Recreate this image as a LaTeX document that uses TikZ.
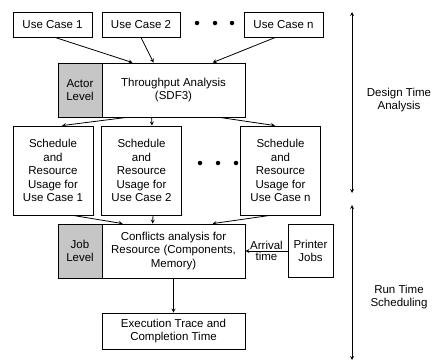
\documentclass[tikz,border=0pt]{standalone}
\usepackage{fontspec}
\setmainfont{Liberation Sans}
\usetikzlibrary{positioning}

\begin{document}
\begin{tikzpicture}[x=1pt, y=-1pt, on grid, >=stealth, line width=0.8pt,
    every node/.style={font=\fontsize{11.5}{13.5}\selectfont},
    box/.style={draw, rectangle, align=center, inner sep=1pt, minimum height=25pt},
    lvl/.style={box, fill=gray!45, minimum width=44pt, minimum height=54pt},
    big/.style={box, minimum width=143pt, minimum height=54pt},
    sched/.style={box, minimum width=80pt, minimum height=89pt},
    dot/.style={circle, fill, inner sep=0pt, minimum size=4.5pt}]
    \useasboundingbox (0,0) rectangle (434,362);

		\node[box, minimum width=79pt] (uc1) at (52.5,24.5) {Use Case 1};
		\node[box, minimum width=78pt] (uc2) [right=88.5pt of uc1] {Use Case 2};
		\node[box, minimum width=79pt] (ucn) [right=142.5pt of uc2] {Use Case n};
    \foreach \i/\x in {1/197, 2/215, 3/232}
      \node[dot] (topdot\i) at (\x,23) {};

		\node[lvl] (actor) at (80,90) {Actor\\Level};
		\node[big] (thr) [right=93.5pt of actor] {Throughput Analysis\\(SDF3)};

		\node[sched] (s1) at (53,170.5) {Schedule\\and\\Resource\\Usage for\\Use Case 1};
		\node[sched] (s2) [right=88.5pt of s1] {Schedule\\and\\Resource\\Usage for\\Use Case 2};
		\node[sched] (sn) [right=139pt of s2] {Schedule\\and\\Resource\\Usage for\\Use Case n};
    \foreach \i/\x in {1/200, 2/218, 3/236}
      \node[dot] (middot\i) at (\x,163) {};

		\node[lvl] (job) [below=161pt of actor] {Job\\Level};
		\node[big] (conf) [below=161pt of thr] {Conflicts analysis for\\Resource (Components,\\Memory)};
		\node[box, minimum width=45pt, minimum height=53pt] (prn) [right=137pt of conf] {Printer\\Jobs};
		\node[big, minimum height=36pt] (exec) [below=80pt of conf] {Execution Trace and\\Completion Time};

    \path[->]
      ([xshift=2.5pt]uc1.south) edge ([xshift=31pt]thr.north west)
      (uc2.south) edge ([xshift=52pt]thr.north west)
      ([xshift=-8pt]ucn.south) edge ([xshift=111pt]thr.north west)
      ([xshift=25pt]thr.south west) edge ([xshift=9pt]s1.north)
      ([xshift=50pt]thr.south west) edge ([xshift=10.5pt]s2.north)
      ([xshift=118pt]thr.south west) edge ([xshift=-5.5pt]sn.north)
      ([xshift=20pt]s1.south) edge ([xshift=21pt]conf.north west)
      ([xshift=11.5pt]s2.south) edge ([xshift=51pt]conf.north west)
      ([xshift=-10.5pt]sn.south) edge ([xshift=111pt]conf.north west)
      (prn.west) edge node [above, inner sep=1pt] {Arrival} node [below, inner sep=1pt] {time} (conf.east)
      (conf.south) edge (exec.north);

    % time axis on the right
    \coordinate (dtop) at (352,12);
    \coordinate (dbot) at (352,193);
    \coordinate (rtop) at (352,205);
    \coordinate (rbot) at (352,360);
    \draw[<->] (dtop) -- (dbot);
    \draw[<->] (rtop) -- (rbot);
    \node[align=center] (design) at (399,100) {Design Time\\Analysis};
    \node[align=center] (run) at (399,297) {Run Time\\Scheduling};
\end{tikzpicture}
\end{document}
